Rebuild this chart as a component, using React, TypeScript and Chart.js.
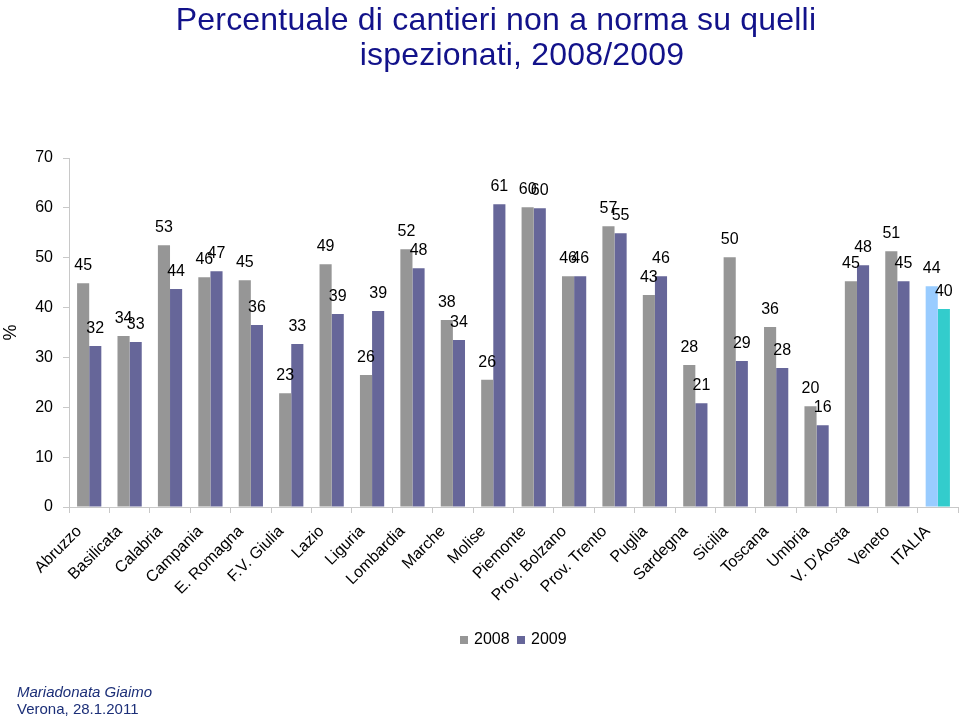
import React, { useEffect, useRef } from 'react';
import { Chart, registerables } from 'chart.js';

Chart.register(...registerables);

const categories = [
  'Abruzzo', 'Basilicata', 'Calabria', 'Campania', 'E. Romagna', 'F.V. Giulia', 'Lazio',
  'Liguria', 'Lombardia', 'Marche', 'Molise', 'Piemonte', 'Prov. Bolzano', 'Prov. Trento',
  'Puglia', 'Sardegna', 'Sicilia', 'Toscana', 'Umbria', "V. D'Aosta", 'Veneto', 'ITALIA',
];
const values2008 = [44.9, 34.3, 52.5, 46.1, 45.5, 22.8, 48.7, 26.5, 51.7, 37.5, 25.5, 60.1, 46.3, 56.3, 42.5, 28.5, 50.1, 36.1, 20.2, 45.3, 51.3, 44.3];
const values2009 = [32.3, 33.1, 43.7, 47.3, 36.5, 32.7, 38.7, 39.3, 47.9, 33.5, 60.7, 59.9, 46.3, 54.9, 46.3, 20.8, 29.3, 27.9, 16.4, 48.5, 45.3, 39.7];
const labels2008 = [45, 34, 53, 46, 45, 23, 49, 26, 52, 38, 26, 60, 46, 57, 43, 28, 50, 36, 20, 45, 51, 44];
const labels2009 = [32, 33, 44, 47, 36, 33, 39, 39, 48, 34, 61, 60, 46, 55, 46, 21, 29, 28, 16, 48, 45, 40];
const seriesNames = ['2008', '2009'];
const titleLines = ['Percentuale di cantieri non a norma su quelli', 'ispezionati, 2008/2009'];
const footerLines = ['Mariadonata Giaimo', 'Verona, 28.1.2011'];
const yMin = 0;
const yMax = 70;
const yStep = 10;

const FONT = '"Liberation Sans", Arial, Helvetica, sans-serif';
const GRAY = '#969696';
const PURPLE = '#666699';
const ITALIA_A = '#99CCFF';
const ITALIA_B = '#33CCCC';
const AXIS = '#c8c8c8';

const decorPlugin = {
  id: 'decor',
  afterDatasetsDraw(chart: any) {
    const ctx = chart.ctx;
    ctx.save();
    ctx.font = `16px ${FONT}`;
    ctx.fillStyle = '#000';
    ctx.textAlign = 'center';
    ctx.textBaseline = 'alphabetic';
    [labels2008, labels2009].forEach((lbls, di) => {
      const meta = chart.getDatasetMeta(di);
      meta.data.forEach((el: any, i: number) => {
        ctx.fillText(String(lbls[i]), el.x, el.y - 13);
      });
    });
    ctx.restore();
  },
  afterDraw(chart: any) {
    const ctx = chart.ctx;
    ctx.save();
    // title
    ctx.fillStyle = '#12128a';
    ctx.font = `32px ${FONT}`;
    ctx.textAlign = 'center';
    ctx.textBaseline = 'alphabetic';
    try { (ctx as any).letterSpacing = '0.2px'; } catch (e) { /* ignore */ }
    ctx.fillText(titleLines[0], 496, 30);
    ctx.fillText(titleLines[1], 522, 65);
    try { (ctx as any).letterSpacing = '0px'; } catch (e) { /* ignore */ }

    // legend
    const legendColors = [GRAY, PURPLE];
    const legendX = [460, 517];
    ctx.font = `16px ${FONT}`;
    ctx.textAlign = 'left';
    ctx.textBaseline = 'middle';
    seriesNames.forEach((name, i) => {
      ctx.fillStyle = legendColors[i];
      ctx.fillRect(legendX[i], 636, 8, 8);
      ctx.fillStyle = '#000';
      ctx.fillText(name, legendX[i] + 14, 640);
    });

    // footer
    ctx.textBaseline = 'alphabetic';
    ctx.fillStyle = '#1c2f78';
    ctx.font = `italic 15px ${FONT}`;
    ctx.fillText(footerLines[0], 17, 697);
    ctx.font = `15px ${FONT}`;
    ctx.fillText(footerLines[1], 17, 714);
    ctx.restore();
  },
};

export default function App() {
  const ref = useRef<HTMLCanvasElement | null>(null);

  useEffect(() => {
    if (!ref.current) return;
    const colors2008 = categories.map((c) => (c === 'ITALIA' ? ITALIA_A : GRAY));
    const colors2009 = categories.map((c) => (c === 'ITALIA' ? ITALIA_B : PURPLE));
    const chart = new Chart(ref.current, {
      type: 'bar',
      data: {
        labels: categories,
        datasets: [
          { label: seriesNames[0], data: values2008, backgroundColor: colors2008, borderWidth: 0 },
          { label: seriesNames[1], data: values2009, backgroundColor: colors2009, borderWidth: 0 },
        ],
      },
      options: {
        responsive: false,
        animation: false,
        devicePixelRatio: 1,
        datasets: { bar: { categoryPercentage: 0.6, barPercentage: 1.0 } },
        layout: { padding: { top: 158, left: 0, right: 2, bottom: 94 } },
        plugins: {
          title: { display: false },
          tooltip: { enabled: false },
          legend: { display: false },
        },
        scales: {
          x: {
            offset: true,
            grid: { display: true, offset: true, drawOnChartArea: false, color: AXIS, tickLength: 6 },
            border: { display: true, color: AXIS },
            ticks: {
              color: '#000',
              font: { family: FONT, size: 16 },
              maxRotation: 45,
              minRotation: 45,
              autoSkip: false,
              padding: 9,
              labelOffset: -10,
            },
            afterFit: (scale: any) => {
              scale.height = 117;
              scale.paddingLeft = 0;
              scale.paddingRight = 0;
            },
          },
          y: {
            min: yMin,
            max: yMax,
            grid: { display: true, drawOnChartArea: false, color: AXIS, tickLength: 6 },
            border: { display: true, color: AXIS },
            ticks: {
              stepSize: yStep,
              color: '#000',
              font: { family: FONT, size: 16 },
              padding: 10,
            },
            title: {
              display: true,
              text: '%',
              color: '#000',
              font: { family: FONT, size: 18 },
              padding: { top: 0, bottom: 0 },
            },
            afterFit: (scale: any) => {
              scale.width = 69;
            },
          },
        },
      },
      plugins: [decorPlugin],
    });
    return () => chart.destroy();
  }, []);

  return (
    <div style={{ position: 'absolute', left: 0, top: 0, width: 960, height: 718, background: '#fff' }}>
      <canvas ref={ref} width={960} height={718} style={{ display: 'block' }} />
    </div>
  );
}
